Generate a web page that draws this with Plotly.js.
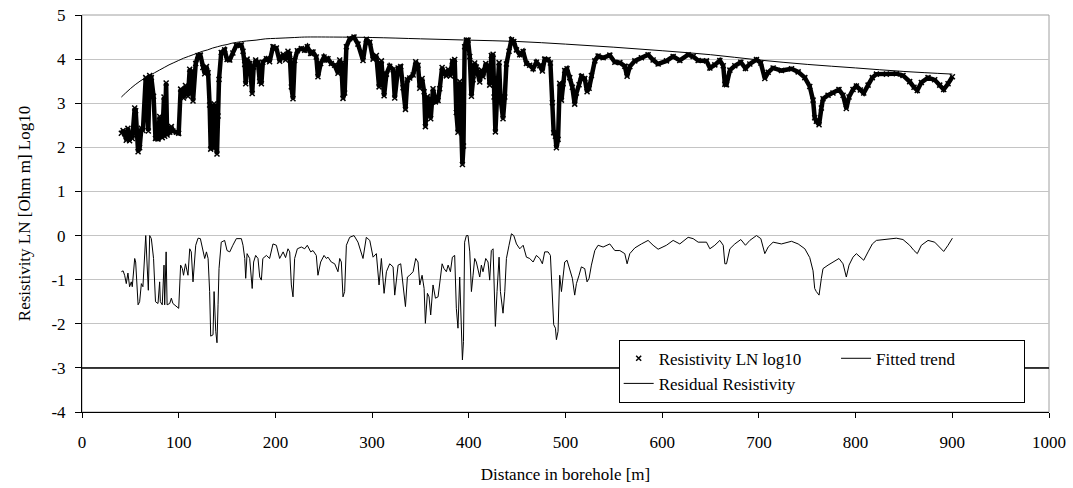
<!DOCTYPE html>
<html>
<head>
<meta charset="utf-8">
<script src="https://cdn.plot.ly/plotly-3.0.1.min.js"></script>
<style>
html,body{margin:0;padding:0;background:#fff;}
#chart{width:1073px;height:488px;}
</style>
</head>
<body>
<div id="chart"></div>
<script>
// Distance in borehole [m]
const depth = [40.7,42.5,44.1,45.8,47.5,49.2,51.0,52.0,54.5,55.5,58.0,59.6,61.4,63.0,65.9,67.0,68.6,70.0,71.7,74.0,76.0,78.6,80.3,81.0,83.0,84.8,85.5,87.0,88.0,90.7,92.4,94.0,97.6,100.0,102.0,103.8,105.0,107.0,109.6,111.4,113.0,114.8,117.6,120.0,122.4,125.0,126.9,128.7,130.4,132.0,133.1,135.5,136.6,138.3,139.6,140.7,141.7,144.0,147.5,150.0,152.8,156.0,159.6,164.8,166.5,168.3,169.3,170.7,173.4,176.0,177.5,179.6,182.0,183.8,185.5,187.0,190.7,194.0,197.5,201.0,204.4,208.0,210.5,213.0,214.8,216.5,218.2,219.9,222.7,226.8,230.3,233.0,236.5,238.9,242.3,244.0,246.8,250.3,252.7,254.4,257.8,261.3,264.7,266.5,268.2,269.9,271.6,273.4,276.8,281.3,285.4,290.6,294.0,297.6,301.0,304.4,307.2,309.6,312.4,314.8,318.2,321.7,323.4,326.9,329.6,332.0,334.5,336.5,338.9,342.4,345.1,347.5,349.3,351.7,353.8,355.1,357.2,358.9,360.6,363.0,365.5,368.2,369.9,372.4,374.4,376.8,378.6,381.0,383.0,385.4,387.1,388.8,390.6,392.3,393.4,394.5,395.7,397.5,399.2,401.0,402.7,404.4,406.1,407.8,409.6,411.3,413.0,414.7,417.5,419.9,421.6,423.3,425.1,426.1,427.5,429.2,431.3,432.7,435.4,437.2,438.9,441.6,444.1,446.5,449.3,452.7,456.2,459.6,463.0,466.5,469.9,473.4,476.1,478.5,482.0,484.4,486.4,487.8,489.6,490.6,492.3,494.0,495.8,497.5,499.2,501.6,504.4,507.1,509.5,511.3,514.0,516.4,519.9,522.3,524.4,526.8,530.3,533.7,538.9,545.8,551.0,556.2,561.3,563.7,566.5,571.7,578.5,585.4,590.6,595.8,604.4,611.3,618.2,626.8,632.0,637.2,645.8,649.3,654.4,659.6,663.1,664.8,666.5,670.0,675.1,681.3,686.1,690.6,697.5,702.0,706.1,709.6,714.7,723.3,733.7,740.6,747.5,752.6,756.0,757.7,759.4,762.2,764.6,766.3,771.5,776.6,782.8,787.0,790.4,793.2,797.3,800.8,804.9,808.4,812.9,817.3,821.5,831.8,842.1,849.0,855.9,860.4,863.8,868.0,874.9,881.8,887.0,891.1,895.6,900.1];

// Resistivity LN log10
const resistivity = [2.32,2.38,2.31,2.16,2.43,2.15,2.30,2.20,2.89,2.83,1.90,1.99,2.43,2.38,3.58,3.07,2.37,3.63,3.58,3.16,2.20,2.19,2.70,2.26,2.22,3.14,2.25,3.46,2.28,2.34,2.47,2.37,2.34,2.32,3.32,3.26,3.12,3.40,3.16,3.77,3.71,3.05,3.90,4.08,4.09,3.81,3.67,3.83,3.69,2.96,1.96,2.00,2.99,2.10,1.85,2.71,3.54,4.15,4.21,3.99,3.98,4.14,4.31,4.32,4.18,3.88,3.44,4.00,3.90,3.22,3.82,3.98,3.92,3.50,3.44,3.93,4.01,3.94,4.28,4.25,3.95,4.11,3.98,4.18,4.11,3.37,3.10,3.97,4.19,4.24,4.20,4.28,4.13,4.16,4.05,3.60,3.90,4.05,3.98,4.01,3.90,3.86,3.68,3.98,3.90,3.11,3.23,4.28,4.46,4.50,4.34,3.97,4.45,4.38,4.00,4.08,3.37,3.96,3.17,3.66,3.84,3.76,3.12,3.80,3.83,3.35,2.86,3.53,3.57,3.64,3.94,3.86,3.34,3.56,3.26,2.47,3.15,3.06,2.65,3.33,3.03,3.06,3.33,3.81,3.69,3.62,3.77,3.62,3.95,3.99,2.79,2.34,3.49,2.33,1.61,2.03,4.28,4.43,4.43,4.06,3.16,3.53,3.91,3.82,3.67,3.48,3.75,3.60,3.90,3.82,3.41,4.08,4.11,3.14,2.35,3.14,3.92,3.14,2.65,3.14,3.89,4.18,4.44,4.40,4.21,4.10,4.17,3.90,3.86,3.78,3.93,3.85,3.73,4.00,3.99,3.91,3.01,2.33,2.25,1.99,2.18,3.45,3.07,3.44,3.74,3.78,3.58,3.36,2.98,3.23,3.42,3.61,3.56,3.26,3.34,3.63,3.96,4.07,4.03,4.09,3.93,3.92,3.84,3.61,3.83,3.96,4.03,4.10,3.98,3.89,3.96,4.06,3.97,4.10,4.06,3.97,3.96,3.80,3.87,3.97,3.85,3.43,3.42,3.75,3.85,3.93,3.79,3.89,3.99,3.91,3.56,3.70,3.80,3.74,3.78,3.71,3.58,3.38,3.07,2.67,2.59,2.51,2.89,3.10,3.18,3.23,3.31,3.18,2.88,3.14,3.31,3.39,3.30,3.23,3.41,3.58,3.66,3.66,3.67,3.63,3.49,3.36,3.29,3.47,3.58,3.53,3.41,3.31,3.44,3.60];

// Residual Resistivity
const residual = [-0.82,-0.80,-0.90,-1.09,-0.85,-1.16,-1.05,-1.16,-0.52,-0.60,-1.57,-1.50,-1.09,-1.16,0.00,-0.52,-1.24,0.00,-0.07,-0.52,-1.50,-1.54,-1.05,-1.50,-1.57,-0.67,-1.57,-0.37,-1.57,-1.54,-1.42,-1.54,-1.61,-1.65,-0.67,-0.75,-0.90,-0.64,-0.90,-0.30,-0.37,-1.05,-0.22,-0.06,-0.07,-0.37,-0.52,-0.37,-0.52,-1.27,-2.28,-2.25,-1.27,-2.17,-2.43,-1.57,-0.75,-0.15,-0.11,-0.34,-0.37,-0.22,-0.07,-0.07,-0.22,-0.52,-0.97,-0.41,-0.52,-1.20,-0.60,-0.45,-0.52,-0.94,-1.01,-0.52,-0.45,-0.52,-0.19,-0.22,-0.52,-0.37,-0.50,-0.30,-0.37,-1.12,-1.39,-0.52,-0.30,-0.26,-0.30,-0.22,-0.37,-0.34,-0.45,-0.90,-0.60,-0.45,-0.52,-0.49,-0.60,-0.64,-0.82,-0.52,-0.60,-1.39,-1.27,-0.22,-0.04,0.00,-0.15,-0.52,-0.04,-0.11,-0.49,-0.41,-1.12,-0.52,-1.31,-0.82,-0.64,-0.71,-1.35,-0.67,-0.64,-1.12,-1.61,-0.94,-0.90,-0.82,-0.52,-0.60,-1.12,-0.90,-1.20,-1.99,-1.31,-1.39,-1.80,-1.12,-1.42,-1.39,-1.12,-0.64,-0.75,-0.82,-0.67,-0.82,-0.49,-0.45,-1.65,-2.10,-0.94,-2.10,-2.82,-2.40,-0.15,0.00,0.00,-0.37,-1.27,-0.90,-0.52,-0.60,-0.75,-0.94,-0.67,-0.82,-0.52,-0.60,-1.01,-0.34,-0.30,-1.27,-2.06,-1.27,-0.49,-1.27,-1.76,-1.27,-0.52,-0.22,0.04,0.00,-0.19,-0.30,-0.22,-0.49,-0.52,-0.60,-0.45,-0.52,-0.64,-0.37,-0.37,-0.45,-1.35,-2.02,-2.10,-2.36,-2.17,-0.90,-1.27,-0.90,-0.60,-0.56,-0.75,-0.97,-1.35,-1.09,-0.90,-0.71,-0.75,-1.05,-0.97,-0.67,-0.34,-0.22,-0.26,-0.19,-0.34,-0.34,-0.41,-0.64,-0.41,-0.28,-0.19,-0.11,-0.22,-0.31,-0.22,-0.11,-0.19,-0.04,-0.07,-0.15,-0.15,-0.30,-0.22,-0.11,-0.22,-0.64,-0.64,-0.30,-0.19,-0.09,-0.22,-0.11,0.00,-0.07,-0.41,-0.26,-0.15,-0.19,-0.13,-0.19,-0.30,-0.50,-0.80,-1.20,-1.27,-1.35,-0.97,-0.75,-0.67,-0.61,-0.52,-0.64,-0.94,-0.67,-0.49,-0.41,-0.49,-0.56,-0.37,-0.19,-0.11,-0.09,-0.06,-0.09,-0.22,-0.34,-0.41,-0.22,-0.11,-0.15,-0.26,-0.36,-0.22,-0.06];

// Fitted trend
const trendDepth = [40.7,45,50,55,60,65,70,75,80,85,90,95,100,105,110,115,120,125,130,135,140,145,150,155,160,170,180,190,200,210,220,230,260,300,350,400,450,500,550,600,650,700,750,800,850,900.1];
const trendValue = [3.14,3.23,3.33,3.42,3.50,3.57,3.63,3.69,3.75,3.81,3.87,3.92,3.97,4.02,4.06,4.10,4.14,4.18,4.21,4.25,4.28,4.31,4.33,4.36,4.38,4.41,4.43,4.46,4.47,4.48,4.49,4.50,4.50,4.49,4.46,4.43,4.40,4.34,4.27,4.19,4.10,3.98,3.88,3.80,3.72,3.66];

// Reference level line
const refLevelX = [0, 1000];
const refLevelY = [-3, -3];

const xTickVals = [0,100,200,300,400,500,600,700,800,900,1000];
const yTickVals = [-4,-3,-2,-1,0,1,2,3,4,5];

const FONT = "'Liberation Serif','Times New Roman',serif";
const NB = '\u00a0';

const traces = [
  {
    x: refLevelX, y: refLevelY, mode: 'lines', type: 'scatter',
    line: {color: '#000', width: 1.5}, showlegend: false, hoverinfo: 'skip'
  },
  {
    x: depth, y: resistivity, mode: 'lines', type: 'scatter',
    line: {color: '#000', width: 4.5}, showlegend: false,
    legendgroup: 'g1', hoverinfo: 'skip'
  },
  {
    x: depth, y: resistivity, mode: 'markers', type: 'scatter',
    name: 'Resistivity LN log10' + NB.repeat(7), legendgroup: 'g1',
    marker: {symbol: 'x-thin', size: 5, color: '#000', line: {color: '#000', width: 1.5}}
  },
  {
    x: depth, y: residual, mode: 'lines', type: 'scatter',
    name: 'Residual Resistivity', legendgroup: 'g1',
    line: {color: '#000', width: 1}
  },
  {
    x: trendDepth, y: trendValue, mode: 'lines', type: 'scatter',
    name: 'Fitted trend' + NB.repeat(15), legendgroup: 'g2',
    line: {color: '#000', width: 1, shape: 'spline'}
  }
];

const layout = {
  width: 1073, height: 488,
  margin: {l: 82, r: 24, t: 15, b: 76},
  paper_bgcolor: '#fff', plot_bgcolor: '#fff',
  font: {family: FONT, size: 17, color: '#000'},
  showlegend: true,
  legend: {
    orientation: 'h', traceorder: 'grouped',
    x: 0.555, y: 0.182, xanchor: 'left', yanchor: 'top',
    bgcolor: '#fff', bordercolor: '#000', borderwidth: 1,
    font: {family: FONT, size: 17, color: '#000'},
    tracegroupgap: 10, itemwidth: 30
  },
  xaxis: {
    range: [0, 1000], tickvals: xTickVals, ticktext: xTickVals.map(String),
    showgrid: false, zeroline: false,
    showline: true, linecolor: '#000', linewidth: 1,
    ticks: 'outside', ticklen: 5, tickcolor: '#000', tickwidth: 1,
    ticklabelstandoff: 10,
    title: {text: 'Distance in borehole [m]', font: {family: FONT, size: 17}, standoff: 16}
  },
  yaxis: {
    range: [-4, 5], tickvals: yTickVals, ticktext: yTickVals.map(String),
    showgrid: true, gridcolor: '#c4c4c4', gridwidth: 1, zeroline: false,
    showline: true, linecolor: '#000', linewidth: 1,
    ticks: 'outside', ticklen: 6, tickcolor: '#000', tickwidth: 1,
    ticklabelstandoff: 6,
    title: {text: 'Resistivity LN [Ohm m] Log10', font: {family: FONT, size: 17}, standoff: 16}
  },
  shapes: [
    {type: 'rect', xref: 'paper', yref: 'paper', x0: 0, x1: 1, y0: 0, y1: 1,
     line: {color: '#a0a0a0', width: 1}, layer: 'below'}
  ]
};

Plotly.newPlot('chart', traces, layout, {displayModeBar: false, staticPlot: true});
</script>
</body>
</html>
